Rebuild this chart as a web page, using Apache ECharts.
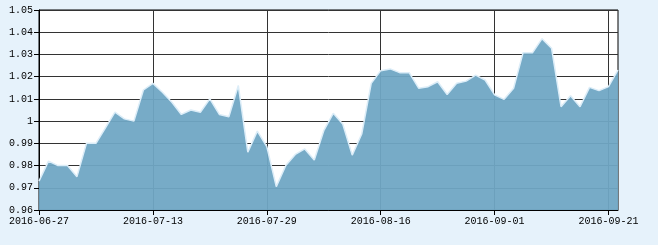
<!DOCTYPE html>
<html><head><meta charset="utf-8">
<script src="https://cdn.jsdelivr.net/npm/echarts@6/dist/echarts.min.js"></script>
<style>html,body{margin:0;padding:0;background:#e6f2fb;}#c{width:658px;height:245px;}</style>
</head><body><div id="c"></div>
<script>
const categories = ["2016-06-27","2016-06-28","2016-06-29","2016-06-30","2016-07-01","2016-07-04","2016-07-05","2016-07-06","2016-07-07","2016-07-08","2016-07-11","2016-07-12","2016-07-13","2016-07-14","2016-07-15","2016-07-18","2016-07-19","2016-07-20","2016-07-21","2016-07-22","2016-07-25","2016-07-26","2016-07-27","2016-07-28","2016-07-29","2016-08-01","2016-08-02","2016-08-03","2016-08-04","2016-08-05","2016-08-08","2016-08-09","2016-08-10","2016-08-11","2016-08-12","2016-08-15","2016-08-16","2016-08-17","2016-08-18","2016-08-19","2016-08-22","2016-08-23","2016-08-24","2016-08-25","2016-08-26","2016-08-29","2016-08-30","2016-08-31","2016-09-01","2016-09-02","2016-09-05","2016-09-06","2016-09-07","2016-09-08","2016-09-09","2016-09-12","2016-09-13","2016-09-14","2016-09-19","2016-09-20","2016-09-21","2016-09-22"];
const values = [0.973,0.982,0.980,0.980,0.975,0.990,0.990,0.997,1.004,1.001,1.000,1.014,1.017,1.013,1.0085,1.003,1.005,1.004,1.010,1.003,1.002,1.016,0.986,0.9955,0.9885,0.9705,0.980,0.985,0.9875,0.9825,0.9957,1.0035,0.9987,0.9847,0.9942,1.017,1.0227,1.0235,1.0218,1.0218,1.0148,1.0155,1.0177,1.012,1.017,1.018,1.0207,1.0185,1.0118,1.0098,1.0148,1.0308,1.0308,1.0371,1.0328,1.0065,1.0114,1.0065,1.0152,1.0137,1.0155,1.023];
const yMin = 0.96, yMax = 1.05, yStep = 0.01;

const chart = echarts.init(document.getElementById('c'));
const font = {fontFamily: '"Liberation Mono", monospace', fontSize: 10, color: '#000'};
chart.setOption({
  backgroundColor: '#e6f2fb',
  animation: false,
  grid: {left: 39, right: 40, top: 10, bottom: 35, show: true, backgroundColor: '#fff', borderColor: '#000', borderWidth: 1},
  xAxis: {
    type: 'category', data: categories, boundaryGap: false,
    axisLine: {lineStyle: {color: '#000'}},
    axisTick: {interval: 11, length: 5, lineStyle: {color: '#000'}},
    axisLabel: Object.assign({interval: 11, margin: 6}, font),
    splitLine: {show: true, interval: 11, lineStyle: {color: '#333', width: 1}}
  },
  yAxis: {
    type: 'value', min: yMin, max: yMax, interval: yStep,
    axisLine: {show: true, lineStyle: {color: '#000'}},
    axisTick: {show: true, length: 5, lineStyle: {color: '#000'}},
    axisLabel: Object.assign({margin: 6}, font),
    splitLine: {show: true, lineStyle: {color: '#333', width: 1}}
  },
  series: [{
    type: 'line', data: values, showSymbol: false, symbol: 'none',
    lineStyle: {color: '#dcedf8', width: 1.5},
    areaStyle: {color: '#70a6c4', opacity: 0.95}
  }]
});
</script></body></html>
